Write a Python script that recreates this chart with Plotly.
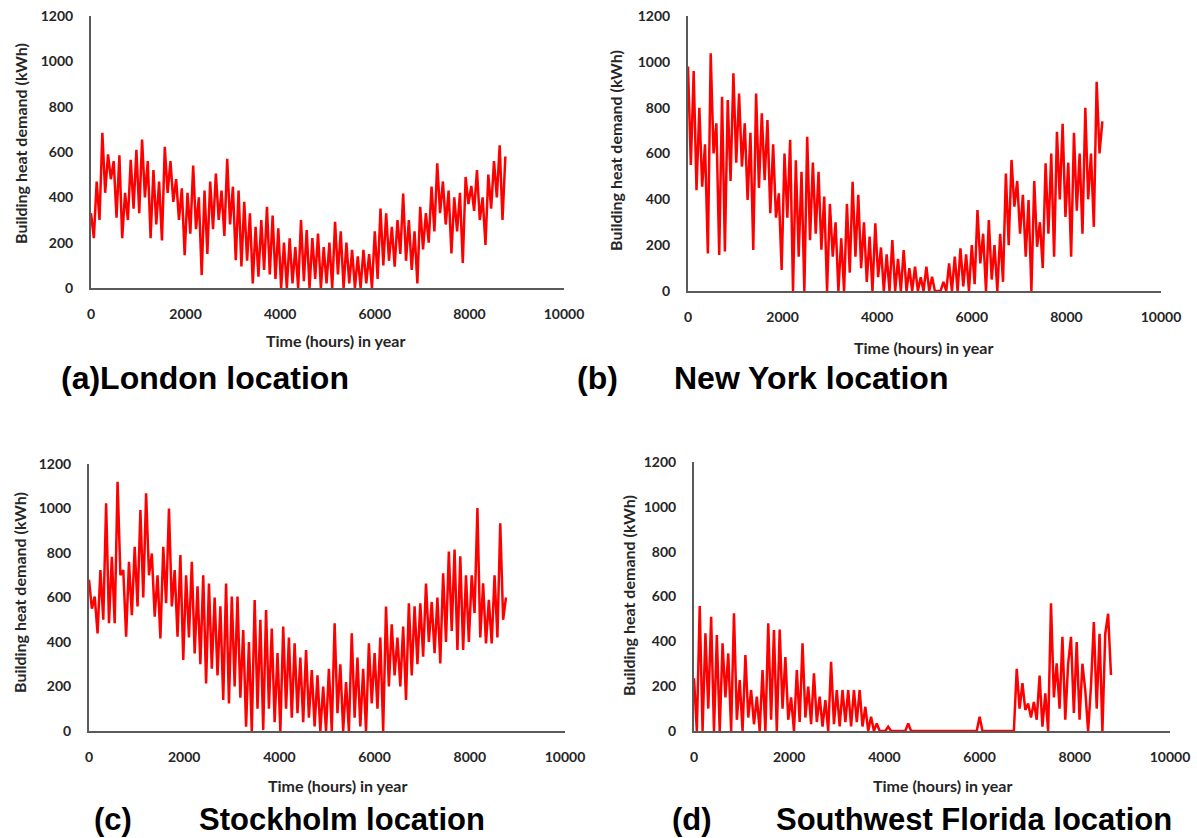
import plotly.graph_objects as go

W, H = 1197, 838

# ---- data: hourly building heat demand (kWh), every 60 h ----
STEP_HOURS = 60
x_ticks = [0, 2000, 4000, 6000, 8000, 10000]
x_tick_text = ["0", "2000", "4000", "6000", "8000", "10000"]
y_ticks = [0, 200, 400, 600, 800, 1000, 1200]

london = [330, 220, 470, 300, 685, 420, 590, 480, 560, 310, 585, 220, 420, 300, 565, 350,
          610, 330, 655, 400, 560, 220, 520, 280, 470, 210, 623, 420, 560, 380, 480, 300,
          440, 145, 420, 240, 540, 260, 400, 57, 430, 150, 470, 260, 505, 300, 430, 230,
          570, 280, 447, 123, 430, 95, 380, 120, 330, 20, 270, 50, 300, 80, 358, 60,
          320, 40, 263, 0, 200, 0, 219, 20, 180, 0, 300, 30, 256, 0, 220, 40,
          240, 0, 180, 20, 200, 0, 292, 60, 250, 0, 200, 20, 168, 0, 140, 0,
          168, 20, 150, 0, 250, 40, 351, 100, 330, 120, 270, 94, 300, 150, 417, 120,
          300, 80, 250, 20, 358, 170, 330, 200, 447, 250, 550, 330, 470, 280, 430, 153,
          400, 250, 420, 110, 490, 370, 450, 340, 520, 300, 400, 190, 500, 350, 560, 400,
          630, 300, 580]

new_york = [980, 550, 960, 440, 800, 455, 640, 164, 1037, 600, 732, 157, 848, 172, 833, 480,
            950, 560, 862, 543, 732, 397, 690, 179, 862, 450, 775, 484, 746, 339, 640, 320,
            426, 92, 600, 320, 660, 0, 570, 150, 520, 0, 673, 222, 560, 250, 520, 180,
            412, 0, 380, 150, 300, 0, 230, 0, 380, 80, 477, 150, 420, 100, 300, 40,
            237, 0, 295, 60, 190, 0, 160, 0, 222, 0, 140, 0, 179, 0, 100, 0,
            106, 0, 60, 0, 106, 0, 62, 0, 0, 0, 40, 0, 120, 0, 150, 0,
            186, 20, 160, 0, 200, 30, 353, 120, 250, 0, 310, 50, 200, 0, 250, 40,
            513, 200, 572, 368, 480, 250, 420, 150, 397, 0, 480, 193, 300, 100, 557, 250,
            600, 150, 695, 400, 730, 323, 560, 150, 690, 350, 600, 250, 800, 400, 600, 280,
            913, 600, 740]

stockholm = [680, 550, 604, 439, 723, 500, 1023, 484, 783, 484, 1120, 700, 723, 424, 760, 520,
             828, 560, 993, 600, 1068, 700, 798, 514, 700, 416, 828, 574, 1000, 560, 723, 424,
             791, 319, 700, 420, 761, 349, 650, 300, 700, 214, 663, 280, 600, 250, 560, 139,
             663, 124, 604, 200, 604, 150, 454, 19, 400, 0, 589, 100, 500, 5, 544, 100,
             460, 40, 350, 0, 469, 100, 420, 60, 394, 80, 330, 40, 364, 60, 274, 20,
             250, 0, 200, 0, 280, 0, 484, 80, 300, 0, 220, 0, 439, 60, 330, 20,
             280, 0, 394, 124, 350, 100, 420, 0, 559, 200, 480, 250, 420, 200, 469, 139,
             574, 250, 560, 300, 574, 334, 663, 400, 580, 350, 600, 304, 709, 400, 807, 450,
             815, 364, 785, 364, 700, 400, 700, 530, 1002, 420, 664, 394, 589, 394, 700, 420,
             934, 500, 600]

florida = [235, 0, 558, 0, 436, 100, 510, 0, 428, 0, 391, 150, 346, 0, 525, 50,
           227, 0, 339, 60, 183, 30, 153, 0, 272, 0, 480, 50, 450, 0, 453, 100,
           330, 50, 150, 0, 272, 40, 391, 60, 198, 30, 257, 40, 153, 20, 138, 0,
           309, 30, 183, 20, 183, 40, 183, 20, 183, 40, 183, 20, 108, 0, 64, 0,
           34, 0, 0, 0, 19, 0, 0, 0, 0, 0, 0, 34, 0, 0, 0, 0,
           0, 0, 0, 0, 0, 0, 0, 0, 0, 0, 0, 0, 0, 0, 0, 0,
           0, 0, 0, 0, 64, 0, 0, 0, 0, 0, 0, 0, 0, 0, 0, 0,
           0, 277, 100, 213, 94, 123, 60, 130, 50, 247, 19, 168, 0, 570, 150, 302,
           100, 420, 50, 300, 420, 80, 397, 50, 300, 181, 0, 200, 486, 100, 434, 0,
           434, 523, 250]

panels = [
    ("a", london, (91, 564), (288, 16)),
    ("b", new_york, (688, 1161), (291, 16)),
    ("c", stockholm, (89, 565), (731, 464)),
    ("d", florida, (694, 1170), (731, 462)),
]

TXT = "#262626"
AXIS = "#5a5a5a"

def px(xp):
    return xp / W

def py(yp):
    return 1 - yp / H

fig = go.Figure()
layout = dict(width=W, height=H, margin=dict(l=0, r=0, t=0, b=0, autoexpand=False),
              paper_bgcolor="white", plot_bgcolor="white", showlegend=False)

for i, (key, vals, (x0, x1), (y0, y1)) in enumerate(panels):
    n = "" if i == 0 else str(i + 1)
    hours = [STEP_HOURS * k for k in range(len(vals))]
    fig.add_trace(go.Scatter(x=hours, y=vals, mode="lines",
                             line=dict(color="rgb(255,0,0)", width=2.5),
                             xaxis="x" + n, yaxis="y" + n, hoverinfo="skip"))
    layout["xaxis" + n] = dict(domain=[px(x0), px(x1)], anchor="y" + n, range=[0, 10000],
                               tickvals=x_ticks, ticktext=x_tick_text, showgrid=False,
                               zeroline=False, automargin=False,
                               showline=True, linecolor=AXIS, linewidth=2, ticks="",
                               ticklabelstandoff=12,
                               tickfont=dict(family="Lato", size=14, color=TXT, weight="bold"))
    layout["yaxis" + n] = dict(domain=[py(y0), py(y1)], anchor="x" + n, range=[0, 1200],
                               tickvals=y_ticks, showgrid=False, zeroline=False,
                               automargin=False,
                               showline=True, linecolor=AXIS, linewidth=2, ticks="",
                               ticklabelstandoff=13,
                               tickfont=dict(family="Lato", size=14, color=TXT, weight="bold"))

fig.update_layout(**layout)

title_font = dict(family="Lato", size=16, color=TXT, weight="bold")
ann = []
# x-axis titles
for (cx, cy) in [(335, 341), (923, 347), (337, 785), (942, 785)]:
    ann.append(dict(text="Time (hours) in year", x=px(cx), y=py(cy), xref="paper", yref="paper",
                    showarrow=False, xanchor="center", yanchor="middle", font=title_font))
# y-axis titles
for (cx, cy) in [(20, 144), (615, 151), (19, 593), (628, 596)]:
    ann.append(dict(text="Building heat demand (kWh)", x=px(cx), y=py(cy), xref="paper",
                    yref="paper", showarrow=False, xanchor="center", yanchor="middle",
                    textangle=-90, font=title_font))
# panel captions (centre positions)
cap_top = dict(family="Liberation Sans", size=32, color="black", weight="bold")
cap_bot = dict(family="Liberation Sans", size=31, color="black", weight="bold")
captions = [("(a)London location", 205, 378, cap_top), ("(b)", 597, 378, cap_top),
            ("New York location", 811, 378, cap_top),
            ("(c)", 113, 819, cap_bot), ("Stockholm location", 342, 819, cap_bot),
            ("(d)", 692, 819, cap_bot), ("Southwest Florida location", 974, 819, cap_bot)]
for (t, cx, cy, f) in captions:
    ann.append(dict(text=t, x=px(cx), y=py(cy), xref="paper", yref="paper", showarrow=False,
                    xanchor="center", yanchor="middle", font=f))
fig.update_layout(annotations=ann)

# remove the browser's default 8px body margin so the figure sits at the page origin
fig.write_html("out.html", config={"displayModeBar": False},
               post_script="document.body.style.margin='0';")
